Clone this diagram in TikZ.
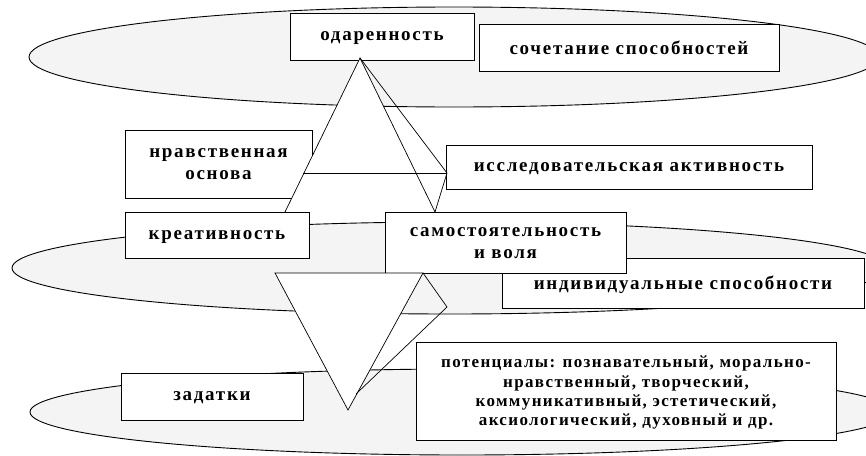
\documentclass[tikz,border=0pt]{standalone}
\usepackage{fontspec}
\setmainfont{Liberation Serif}
\newfontfamily\lblfont{Liberation Serif}[LetterSpace=9, UprightFont={* Bold}]
\newfontfamily\potfont{Liberation Serif}[LetterSpace=8, UprightFont={* Bold}]
\definecolor{ellgray}{RGB}{244,244,244}
\begin{document}
\begin{tikzpicture}[x=1pt,y=-1pt,
  ell/.style={draw=black, fill=ellgray, line width=0.9pt},
  box/.style={draw=black, fill=white, line width=0.8pt, inner sep=0pt, align=center,
    text depth=0pt, font=\fontsize{19}{22.5}\selectfont\lblfont},
  potbox/.style={draw=black, fill=white, line width=0.8pt, inner sep=0pt, align=center,
    text depth=0pt, font=\fontsize{17}{19.3}\selectfont\potfont},
  edge/.style={line width=0.7pt}]
\useasboundingbox (0,0) rectangle (866,455);
\clip (0,0) rectangle (866,455);
% ellipses
\draw[ell] (454,57) ellipse [x radius=425pt, y radius=50pt];
\draw[ell] (450,268) ellipse [x radius=438pt, y radius=46pt];
\draw[ell] (462,412) ellipse [x radius=432pt, y radius=43pt];
% top boxes
\node[box, minimum width=184pt, minimum height=47pt] (odar) at (382,36.5) {одаренность};
\node[box, minimum width=300pt, minimum height=47pt] (sochet) at (629,47.5) {сочетание способностей};
\node[box, minimum width=187pt, minimum height=68pt] (nrav) at (218.5,164) {нравственная\\основа};
\node[box, minimum width=366pt, minimum height=44pt] (issl) at (629,167) {исследовательская активность};
% upper pyramid
\coordinate (A1) at (360,58);
\coordinate (L1) at (285,212);
\coordinate (R1) at (435,212);
\coordinate (B1) at (447,173);
\coordinate (H1) at (303,173);
\fill[white] (A1) -- (L1) -- (R1) -- cycle;
\draw[edge] (L1) -- (A1) -- (R1);
\draw[edge] (A1) -- (B1) -- (R1);
\draw[edge] (H1) -- (B1);
% middle boxes
\node[box, minimum width=184pt, minimum height=46pt] (kreat) at (217,235) {креативность};
\node[box, minimum width=362pt, minimum height=50pt] (indiv) at (683,283) {индивидуальные способности};
\node[box, minimum width=241pt, minimum height=61pt] (samost) at (505.5,243) {самостоятельность\\и воля};
% lower pyramid
\coordinate (TL) at (275,273);
\coordinate (TR) at (423,273);
\coordinate (AP) at (348,410);
\coordinate (BK) at (447,307);
\coordinate (M2) at (356,394);
\fill[white] (TL) -- (TR) -- (AP) -- cycle;
\draw[edge] (TL) -- (TR) -- (AP) -- cycle;
\draw[edge] (TR) -- (BK) -- (M2);
% bottom boxes
\node[box, minimum width=182pt, minimum height=47pt] (zadat) at (212,396.5) {задатки};
\node[potbox, minimum width=420pt, minimum height=98pt] (potenc) at (626,391)
  {потенциалы: познавательный, морально-\\нравственный, творческий,\\коммуникативный, эстетический,\\аксиологический, духовный и др.};
\end{tikzpicture}
\end{document}
